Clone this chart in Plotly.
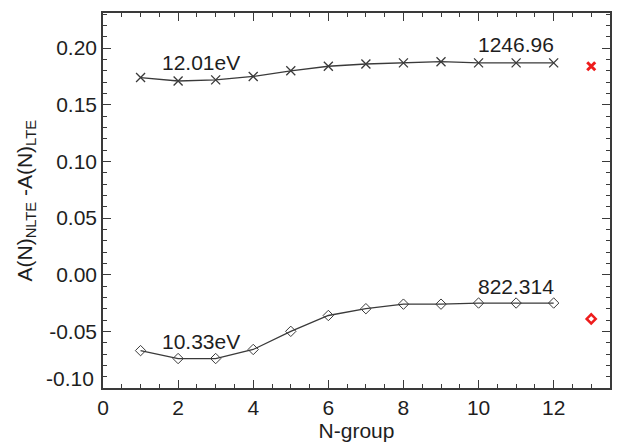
import plotly.graph_objects as go

n_group = [1, 2, 3, 4, 5, 6, 7, 8, 9, 10, 11, 12]
upper_vals = [0.174, 0.171, 0.172, 0.175, 0.180, 0.184, 0.186, 0.187, 0.188, 0.187, 0.187, 0.187]
lower_vals = [-0.067, -0.074, -0.074, -0.066, -0.050, -0.036, -0.030, -0.026, -0.026, -0.025, -0.025, -0.025]
red_x = [13]
red_upper = [0.184]
red_lower = [-0.039]

x_ticks = [0, 2, 4, 6, 8, 10, 12]
y_ticks = [0.20, 0.15, 0.10, 0.05, 0.00, -0.05]
y_ticktext = ["0.20", "0.15", "0.10", "0.05", "0.00", "-0.05"]

FONT = "Liberation Sans, Arial, Helvetica, sans-serif"
FS = 21
LINE = "#3a3a3a"
TXT = "#1e1e1e"

fig = go.Figure()
fig.add_trace(go.Scatter(
    x=n_group, y=upper_vals, mode="lines+markers",
    line=dict(color=LINE, width=1.3),
    marker=dict(symbol="x-thin", size=9, line=dict(color=LINE, width=1.3)),
    showlegend=False))
fig.add_trace(go.Scatter(
    x=n_group, y=lower_vals, mode="lines+markers",
    line=dict(color=LINE, width=1.3),
    marker=dict(symbol="diamond-open", size=8, color=LINE, line=dict(color=LINE, width=1)),
    showlegend=False))
fig.add_trace(go.Scatter(
    x=red_x, y=red_upper, mode="markers",
    marker=dict(symbol="x-thin", size=8, line=dict(color="#ee1c1c", width=3)),
    showlegend=False))
fig.add_trace(go.Scatter(
    x=red_x, y=red_lower, mode="markers",
    marker=dict(symbol="diamond-open", size=7, color="#ee1c1c", line=dict(color="#ee1c1c", width=2.5)),
    showlegend=False))

annots = [
    dict(x=2.6, y=0.1875, text="12.01eV"),
    dict(x=11.0, y=0.2034, text="1246.96"),
    dict(x=2.6, y=-0.059, text="10.33eV"),
    dict(x=11.0, y=-0.0104, text="822.314"),
]
for a in annots:
    fig.add_annotation(x=a["x"], y=a["y"], text=a["text"], showarrow=False,
                       xref="x", yref="y", font=dict(family=FONT, size=FS, color=TXT))
# -0.10 label (drawn slightly above the bottom axis, as in the original)
fig.add_annotation(x=0, y=-0.10, text="-0.10", showarrow=False, xref="paper", yref="y",
                   xanchor="right", yanchor="middle", xshift=-7, yshift=10,
                   font=dict(family=FONT, size=FS, color=TXT))
# y-axis title
fig.add_annotation(x=0, y=0.5, xref="paper", yref="paper", showarrow=False,
                   text="A(N)<sub>NLTE</sub> -A(N)<sub>LTE</sub>", textangle=-90,
                   xanchor="center", yanchor="middle", xshift=-78,
                   font=dict(family=FONT, size=FS, color=TXT))

fig.update_xaxes(
    range=[0, 13.5], tickvals=x_ticks, ticks="inside", ticklen=8, tickwidth=1.2,
    tickcolor=LINE, showline=True, linecolor=LINE, linewidth=1.5, mirror="ticks",
    showgrid=False, zeroline=False, automargin=False,
    minor=dict(ticks="inside", dtick=0.5, ticklen=4, tickcolor=LINE, tickwidth=1),
    tickfont=dict(family=FONT, size=FS, color=TXT),
    title=dict(text="N-group", font=dict(family=FONT, size=FS, color=TXT), standoff=0),
)
fig.update_yaxes(
    range=[-0.10, 0.231], tickvals=y_ticks, ticktext=y_ticktext, ticks="inside", ticklen=8,
    tickwidth=1.2, tickcolor=LINE, showline=True, linecolor=LINE, linewidth=1.5,
    mirror="ticks", showgrid=False, zeroline=False, automargin=False,
    minor=dict(ticks="inside", dtick=0.01, ticklen=4, tickcolor=LINE, tickwidth=1),
    tickfont=dict(family=FONT, size=FS, color=TXT),
)
# page body has an 8px margin, so the figure is sized to fit the 620x442 window
fig.update_layout(
    width=612, height=434,
    margin=dict(l=95, r=10, t=5, b=54),
    plot_bgcolor="white", paper_bgcolor="white",
)
fig.write_html("out.html")
